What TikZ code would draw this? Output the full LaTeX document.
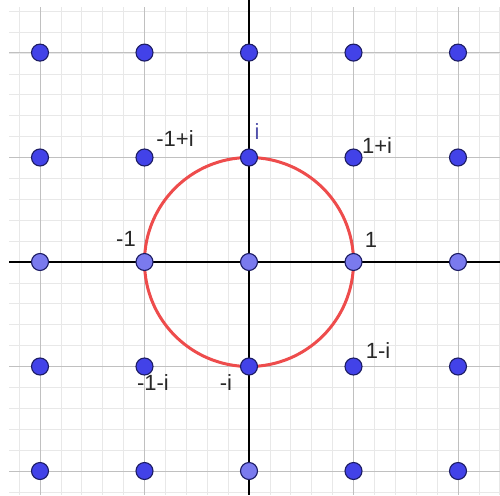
\documentclass[tikz,border=0pt]{standalone}
\usepackage{fontspec}
\setmainfont{Liberation Sans}
\definecolor{minorgrid}{RGB}{232,232,232}
\definecolor{majorgrid}{RGB}{192,192,192}
\definecolor{darkpt}{RGB}{66,66,232}
\definecolor{lightpt}{RGB}{122,122,238}
\definecolor{ptedge}{RGB}{28,28,100}
\definecolor{circred}{RGB}{238,76,76}
\definecolor{lbl}{RGB}{40,40,40}
\definecolor{ilbl}{RGB}{80,80,170}
\begin{document}
\begin{tikzpicture}[x=1pt,y=-1pt,
  ptdark/.style={circle,draw=ptedge,line width=1.1pt,fill=darkpt,minimum size=17pt,inner sep=0pt},
  ptlight/.style={circle,draw=ptedge,line width=1.1pt,fill=lightpt,minimum size=17pt,inner sep=0pt},
  lab/.style={text=lbl,font=\fontsize{22}{22}\selectfont,inner sep=0pt}]
\useasboundingbox (0,0) rectangle (500,495);
\fill[white] (0,0) rectangle (500,495);
\begin{scope}
\clip (9,8) rectangle (500,495);
\foreach \k in {-12,...,13} {
  \draw[minorgrid,line width=0.8pt] ({249+\k*20.9},0) -- ({249+\k*20.9},495);
  \draw[minorgrid,line width=0.8pt] (0,{262+\k*20.9}) -- (500,{262+\k*20.9});
}
\foreach \k in {-2,...,2} {
  \draw[majorgrid,line width=1pt] ({249+\k*104.5},0) -- ({249+\k*104.5},495);
  \draw[majorgrid,line width=1pt] (0,{262+\k*104.5}) -- (500,{262+\k*104.5});
}
\draw[black,line width=1.3pt] (0,262) -- (500,262);
\end{scope}
\draw[black,line width=1.3pt] (249,0) -- (249,495);
\draw[circred,line width=3pt] (249,262) circle[radius=104.5];
% points
\node[ptdark] (pm2p2) at (40,52.6) {};
\node[ptdark] (pm1p2) at (144.5,52.6) {};
\node[ptdark] (p0p2) at (249,52.6) {};
\node[ptdark] (p1p2) at (353.5,52.6) {};
\node[ptdark] (p2p2) at (458,52.6) {};
\node[ptdark] (pm2p1) at (40,157.5) {};
\node[ptdark] (pm1p1) at (144.5,157.5) {};
\node[ptdark] (p0p1) at (249,157.5) {};
\node[ptdark] (p1p1) at (353.5,157.5) {};
\node[ptdark] (p2p1) at (458,157.5) {};
\node[ptlight] (pm2p0) at (40,262) {};
\node[ptlight] (pm1p0) at (144.5,262) {};
\node[ptlight] (p0p0) at (249,262) {};
\node[ptlight] (p1p0) at (353.5,262) {};
\node[ptlight] (p2p0) at (458,262) {};
\node[ptdark] (pm2m1) at (40,366.5) {};
\node[ptdark] (pm1m1) at (144.5,366.5) {};
\node[ptdark] (p0m1) at (249,366.5) {};
\node[ptdark] (p1m1) at (353.5,366.5) {};
\node[ptdark] (p2m1) at (458,366.5) {};
\node[ptdark] (pm2m2) at (40,471) {};
\node[ptdark] (pm1m2) at (144.5,471) {};
\node[ptlight] (p0m2) at (249,471) {};
\node[ptdark] (p1m2) at (353.5,471) {};
\node[ptdark] (p2m2) at (458,471) {};
% labels
\node[lab] (lmi1) at (175,139) {-1+i};
\node[lab,text=ilbl] (li) at (257,132) {i};
\node[lab] (l1i) at (377,146) {1+i};
\node[lab] (lm1) at (126,239) {-1};
\node[lab] (l1) at (371,240) {1};
\node[lab] (l1mi) at (378,351) {1-i};
\node[lab] (lm1mi) at (153,383) {-1-i};
\node[lab] (lmi) at (226,383) {-i};
\end{tikzpicture}
\end{document}
